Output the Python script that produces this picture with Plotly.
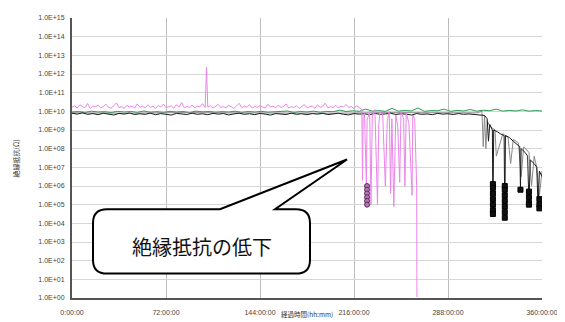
import plotly.graph_objects as go

# ---------------- data (hours, log10 of resistance in ohm) ----------------
pink_t = [0, 2, 4, 6, 8, 10, 12, 14, 16, 18, 20,
          22, 24, 26, 28, 30, 32, 34, 36, 38, 40,
          42, 44, 46, 48, 50, 52, 54, 56, 58, 60,
          62, 64, 66, 68, 70, 72, 74, 76, 78, 80,
          82, 84, 86, 88, 90, 92, 94, 96, 98, 100,
          102, 103, 104,
          106, 108, 110, 112, 114, 116, 118, 120,
          122, 124, 126, 128, 130, 132, 134, 136, 138, 140,
          142, 144, 146, 148, 150, 152, 154, 156, 158, 160,
          162, 164, 166, 168, 170, 172, 174, 176, 178, 180,
          182, 184, 186, 188, 190, 192, 194, 196, 198, 200,
          202, 204, 206, 208, 210, 212, 214, 216, 218, 220,
          222, 222.5, 223, 224, 225.5, 226, 228, 229, 230, 232, 234, 235, 236, 238, 240,
          241.5, 243, 244, 245, 246.5, 248, 249.5, 251, 252, 254, 255, 256, 258, 259.5,
          260.5, 261, 262.5, 264, 264.2]
pink_log = [10.22, 10.30, 10.18, 10.35, 10.25, 10.20, 10.42, 10.15, 10.28, 10.24, 10.33,
            10.19, 10.26, 10.38, 10.21, 10.17, 10.30, 10.45, 10.20, 10.25, 10.16,
            10.32, 10.23, 10.28, 10.18, 10.40, 10.22, 10.26, 10.19, 10.34, 10.21,
            10.27, 10.15, 10.31, 10.24, 10.39, 10.20, 10.23, 10.29, 10.17, 10.36,
            10.22, 10.47, 10.19, 10.26, 10.21, 10.33, 10.18, 10.28, 10.24, 10.41,
            10.20, 12.35, 10.23,
            10.30, 10.17, 10.26, 10.37, 10.21, 10.25, 10.19, 10.32,
            10.24, 10.16, 10.29, 10.43, 10.20, 10.27, 10.22, 10.35, 10.18, 10.26,
            10.21, 10.31, 10.24, 10.17, 10.38, 10.23, 10.28, 10.19, 10.33, 10.22,
            10.26, 10.40, 10.18, 10.25, 10.21, 10.30, 10.16, 10.27, 10.36, 10.20,
            10.24, 10.29, 10.17, 10.34, 10.22, 10.26, 10.44, 10.19, 10.25, 10.21,
            10.32, 10.18, 10.27, 10.23, 10.37, 10.20, 10.26, 10.15, 10.30, 10.22,
            10.10, 6.30, 9.80, 9.90, 6.00, 9.50, 10.00, 5.00, 9.70, 10.10, 5.00, 9.30,
            10.00, 9.80, 6.00, 9.50, 10.00, 5.60, 9.60, 4.90, 9.80, 9.20, 6.20, 10.00,
            9.60, 6.00, 9.90, 9.40, 7.00, 5.50, 9.80, 9.60, 6.00, 0.05]

pink_mark_t = [226, 226, 226, 226, 226, 226]
pink_mark_log = [6.0, 5.8, 5.6, 5.4, 5.2, 5.0]

black_t = [0, 4, 8, 12, 16, 20, 24, 28, 32, 36, 40, 44, 48, 52, 56, 60, 64, 68, 72, 76,
           80, 84, 88, 92, 96, 100, 104, 108, 112, 116, 120, 124, 128, 132, 136, 140, 144,
           148, 152, 156, 160, 164, 168, 172, 176, 180, 184, 188, 192, 196, 200, 204, 208,
           212, 216, 220, 224, 228, 232, 236, 240, 244, 248, 252, 256, 260, 264, 268, 272,
           276, 280, 284, 288, 292, 296, 300, 304, 308, 312, 316,
           318, 319, 320, 322, 322.4, 323, 326, 328, 331, 331.5, 332, 335, 338, 341, 343,
           343.5, 344, 347, 349, 350, 351, 354, 356, 357, 358, 360]
black_log = [9.90, 9.85, 9.92, 9.84, 9.88, 9.82, 9.90, 9.86, 9.80, 9.89, 9.85, 9.91, 9.83,
             9.87, 9.84, 9.90, 9.82, 9.88, 9.85, 9.80, 9.89, 9.86, 9.83, 9.90, 9.84, 9.87,
             9.82, 9.89, 9.85, 9.88, 9.81, 9.86, 9.90, 9.84, 9.87, 9.82, 9.89, 9.85, 9.80,
             9.88, 9.86, 9.83, 9.90, 9.84, 9.87, 9.82, 9.88, 9.85, 9.89, 9.83, 9.86, 9.90,
             9.84, 9.81, 9.88, 9.85, 9.87, 9.82, 9.89, 9.84, 9.86, 9.90, 9.83, 9.87, 9.85,
             9.80, 9.88, 9.84, 9.86, 9.82, 9.89, 9.85, 9.87, 9.83, 9.88, 9.84, 9.86, 9.82,
             9.80, 9.78,
             9.60, 8.40, 9.30, 9.00, 4.50, 9.00, 8.90, 8.80, 8.70, 4.20, 8.70, 8.60, 8.40,
             8.20, 8.10, 5.80, 8.00, 7.80, 7.60, 5.00, 7.40, 7.20, 7.00, 4.80, 6.80, 6.50]

black_mark_t = [322.4, 322.4, 322.4, 322.4, 322.4, 322.4, 322.4,
                331.5, 331.5, 331.5, 331.5, 331.5, 331.5, 331.5,
                343.5, 350, 350, 350, 350, 358, 358, 358]
black_mark_log = [6.1, 5.9, 5.6, 5.3, 5.0, 4.7, 4.5,
                  6.0, 5.8, 5.5, 5.2, 4.9, 4.6, 4.3,
                  5.8, 5.7, 5.4, 5.1, 5.0, 5.3, 5.0, 4.8]

gray_t = [0, 40, 80, 120, 160, 200, 240, 280, 310, 314, 315, 316, 317, 318, 320, 324, 325,
          330, 334, 336, 338, 342, 344, 346, 350, 352, 354, 356, 358, 360]
gray_log = [9.92, 9.90, 9.93, 9.91, 9.92, 9.90, 9.93, 9.91, 9.92, 10.00, 8.10, 9.80, 8.00,
            9.50, 9.20, 9.00, 7.60, 8.80, 8.60, 7.20, 8.50, 8.30, 6.50, 8.10, 7.80, 6.00,
            7.60, 7.00, 5.50, 6.80]

green_t = [0, 5, 10, 15, 20, 25, 30, 35, 40, 45, 50, 55, 60, 65, 70, 75, 80, 85, 90, 95,
           100, 105, 110, 115, 120, 125, 130, 135, 140, 145, 150, 155, 160, 165, 170, 175,
           180, 185, 190, 195, 200, 205, 210, 215, 220, 225, 230, 235, 240, 245, 250, 255,
           260, 265, 270, 275, 280, 285, 290, 295, 300, 305, 310, 315, 320, 325, 330, 335,
           340, 345, 350, 355, 360]
green_log = [9.96, 9.99, 9.94, 10.01, 9.96, 9.98, 9.93, 10.00, 9.96, 9.99, 9.94, 10.02,
             9.95, 9.98, 9.94, 10.00, 9.96, 9.99, 9.93, 10.01, 9.97, 9.99, 9.95, 9.98,
             9.96, 10.01, 9.94, 9.99, 9.96, 10.00, 9.95, 9.98, 9.97, 10.02, 9.94, 9.99,
             9.96, 10.01, 9.95, 9.99, 9.98, 10.06, 9.99, 10.03, 10.00, 10.12, 10.01, 10.04,
             10.00, 10.16, 10.01, 10.05, 10.02, 10.18, 10.00, 10.04, 10.03, 10.12, 10.00,
             10.05, 10.02, 10.10, 10.01, 10.06, 10.03, 10.12, 10.01, 10.05, 10.02, 10.08,
             10.01, 10.04, 10.02]

x_tickvals = [0, 72, 144, 216, 288, 360]
x_ticktext = ["0:00:00", "72:00:00", "144:00:00", "216:00:00", "288:00:00", "360:00:00"]
y_exponents = list(range(0, 16))
y_ticktext = ["1.0E+%02d" % e for e in y_exponents]

callout_text = "絶縁抵抗の低下"
y_title = "絶縁抵抗(Ω)"
x_title = "経過時間(hh:mm)"


def pw(v):
    return [10 ** a for a in v]


# ---------------- figure ----------------
fig = go.Figure()
fig.add_trace(go.Scatter(x=green_t, y=pw(green_log), mode="lines",
                         line=dict(color="#2f9a5a", width=1)))
fig.add_trace(go.Scatter(x=gray_t, y=pw(gray_log), mode="lines",
                         line=dict(color="#8a8a8a", width=1)))
fig.add_trace(go.Scatter(x=black_t, y=pw(black_log), mode="lines",
                         line=dict(color="#1a1a1a", width=1)))
fig.add_trace(go.Scatter(x=pink_t, y=pw(pink_log), mode="lines",
                         line=dict(color="#ec84ec", width=1)))
fig.add_trace(go.Scatter(x=pink_mark_t, y=pw(pink_mark_log), mode="markers",
                         marker=dict(symbol="circle", size=5, color="#b07ab0",
                                     line=dict(color="#5a2a5a", width=1))))
fig.add_trace(go.Scatter(x=black_mark_t, y=pw(black_mark_log), mode="markers",
                         marker=dict(symbol="square", size=5, color="#111111",
                                     line=dict(color="#000000", width=1))))

# page has an 8px body margin: figure is drawn 8px smaller and offset
OFF = 8
PAGE_W, PAGE_H = 565, 322
W, H = PAGE_W - OFF, PAGE_H - OFF
# plot area in page pixels
L, R, T, B = 72, 542, 14, 301


def px(X):
    return (X - L) / (R - L)


def py(Y):
    return (B - Y) / (B - T)


# callout bubble (page-pixel geometry converted to paper coords)
cl, cr, ct, cb, r = 93, 310, 210, 276, 14
pts = [
    ("M", cl + r, ct), ("L", 220, ct), ("L", 347, 159), ("L", 275, ct), ("L", cr - r, ct),
    ("Q", cr, ct, cr, ct + r), ("L", cr, cb - r), ("Q", cr, cb, cr - r, cb),
    ("L", cl + r, cb), ("Q", cl, cb, cl, cb - r), ("L", cl, ct + r),
    ("Q", cl, ct, cl + r, ct),
]
path = ""
for p in pts:
    if p[0] == "Q":
        path += "Q%.5f,%.5f %.5f,%.5f " % (px(p[1]), py(p[2]), px(p[3]), py(p[4]))
    else:
        path += "%s%.5f,%.5f " % (p[0], px(p[1]), py(p[2]))
path += "Z"
fig.add_shape(type="path", path=path, xref="paper", yref="paper",
              fillcolor="white", line=dict(color="black", width=2), layer="above")

fig.add_annotation(text=callout_text, x=px(202), y=py(248), xref="paper", yref="paper",
                   showarrow=False, xanchor="center", yanchor="middle",
                   font=dict(family="Noto Sans CJK JP", size=20, color="#111"))
fig.add_annotation(text=y_title, x=px(16), y=py(158), xref="paper", yref="paper",
                   showarrow=False, textangle=-90, xanchor="center", yanchor="middle",
                   font=dict(family="Noto Sans CJK JP", size=7, color="#333"))
fig.add_annotation(text=x_title, x=px(307), y=py(317), xref="paper", yref="paper",
                   showarrow=False, xanchor="center", yanchor="middle",
                   font=dict(family="Noto Sans CJK JP", size=6.5, color="#333"))

fig.update_layout(
    width=W, height=H, autosize=False,
    margin=dict(l=L - OFF, r=PAGE_W - R, t=T - OFF, b=PAGE_H - B, pad=0),
    paper_bgcolor="white", plot_bgcolor="white",
    showlegend=False,
    font=dict(family="Liberation Sans", size=7, color="#444"),
)
fig.update_xaxes(range=[0, 360], tickvals=x_tickvals, ticktext=x_ticktext,
                 showgrid=True, gridcolor="#bdbdbd", gridwidth=1,
                 showline=True, linecolor="#555", linewidth=2, zeroline=False,
                 ticks="", ticklabelstandoff=7,
                 tickfont=dict(family="Liberation Sans", size=7, color="#444"))
fig.update_yaxes(type="log", range=[0, 15], tickvals=[10 ** e for e in y_exponents],
                 ticktext=y_ticktext,
                 showgrid=True, gridcolor="#d6d6d6", gridwidth=1,
                 showline=True, linecolor="#555", linewidth=2, zeroline=False,
                 ticks="", ticklabelstandoff=4,
                 tickfont=dict(family="Liberation Sans", size=7, color="#444"))

fig.write_html("out.html")
